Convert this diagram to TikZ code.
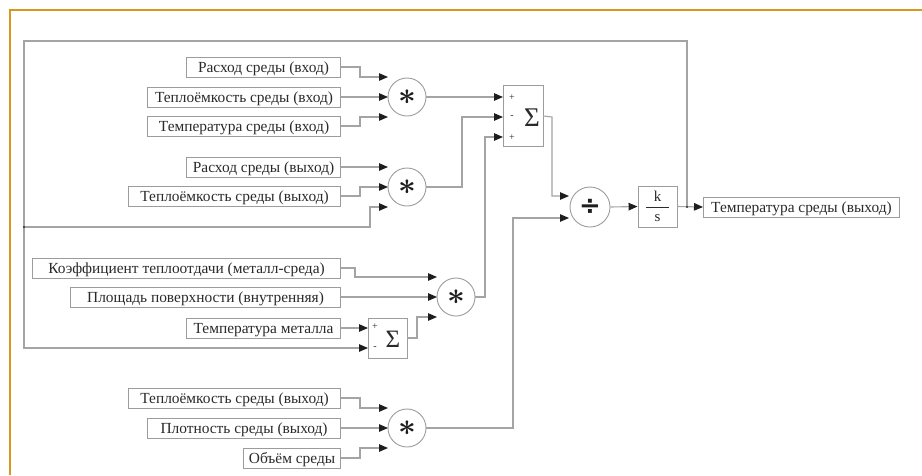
\documentclass[tikz,border=0pt]{standalone}
\usepackage{fontspec}
\setmainfont{Liberation Serif}
\newfontfamily\symfont{DejaVu Sans}
\usetikzlibrary{arrows.meta}
\definecolor{frameorange}{HTML}{D9981C}
\definecolor{wiregray}{HTML}{A4A4A4}
\definecolor{boxgray}{HTML}{9C9C9C}
\definecolor{inkgray}{HTML}{2A2A2A}
\definecolor{tipblack}{HTML}{1E1E1E}
\begin{document}
\begin{tikzpicture}[x=1pt,y=-1pt,
  sig/.style={draw=boxgray,line width=0.9pt,minimum height=20pt,inner sep=0pt,
    anchor=east,text=inkgray,font=\fontsize{15.4}{16}\selectfont,
    text height=11.5pt,text depth=1.3pt},
  op/.style={circle,draw=boxgray,line width=0.9pt,minimum size=38pt,inner sep=0pt,text=tipblack},
  blk/.style={rectangle,draw=boxgray,line width=0.9pt,inner sep=0pt},
  wire/.style={draw=wiregray,line width=1.1pt},
  feed/.style={wire,-{Triangle[length=9pt,width=7.5pt,color=tipblack]}},
  sign/.style={font=\fontsize{10}{10}\selectfont,text=inkgray,inner sep=0pt},
  mult/.style={op,font=\boldmath},
]
\useasboundingbox (0,0) rectangle (922,475);
\fill[white] (0,0) rectangle (922,475);
% frame
\draw[frameorange,line width=2pt] (10,475) -- (10,10) -- (922,10);

% ---- input signals, upper group
\node[sig,minimum width=154pt] (b1) at (341,67) {Расход среды (вход)};
\node[sig,minimum width=193pt] (b2) at (341,97) {Теплоёмкость среды (вход)};
\node[sig,minimum width=193pt] (b3) at (341,126) {Температура среды (вход)};
\node[sig,minimum width=154pt] (b4) at (341,167) {Расход среды (выход)};
\node[sig,minimum width=212pt] (b5) at (341,196) {Теплоёмкость среды (выход)};

% ---- input signals, metal group
\node[sig,minimum width=308pt] (c1) at (341,268) {Коэффициент теплоотдачи (металл-среда)};
\node[sig,minimum width=270pt] (c2) at (341,297) {Площадь поверхности (внутренняя)};
\node[sig,minimum width=154pt] (c3) at (341,328) {Температура металла};

% ---- input signals, volume group
\node[sig,minimum width=212pt] (d1) at (341,398) {Теплоёмкость среды (выход)};
\node[sig,minimum width=193pt] (d2) at (341,428) {Плотность среды (выход)};
\node[sig,minimum width=97pt] (d3) at (341,458) {Объём среды};

% ---- product blocks
\node[mult] (m1) at (407,97) {\scalebox{3.1}{$\ast$}};
\node[mult] (m2) at (407,187) {\scalebox{3.1}{$\ast$}};
\node[mult] (m3) at (456,297) {\scalebox{3.1}{$\ast$}};
\node[mult] (m4) at (407,428) {\scalebox{3.1}{$\ast$}};

% ---- sum blocks
\node[blk,minimum width=40pt,minimum height=61pt] (s1) at (523,116) {};
\node[font=\fontsize{27}{27}\selectfont,text=inkgray,inner sep=0pt] (s1sym) at (532,118) {Σ};
\node[sign] (s1p1) at (512,98) {+};
\node[sign] (s1m)  at (512,117) {-};
\node[sign] (s1p2) at (512,138) {+};

\node[blk,minimum width=39pt,minimum height=40pt] (s2) at (387.5,338) {};
\node[font=\fontsize{25}{25}\selectfont,text=inkgray,inner sep=0pt] (s2sym) at (393,339) {Σ};
\node[sign] (s2p) at (375,327) {+};
\node[sign] (s2m) at (375,348) {-};

% ---- divide, integrator, output
\node[op,minimum size=40pt,font=\symfont\bfseries\fontsize{26}{26}\selectfont] (dv) at (590,207) {÷};
\node[blk,minimum width=39pt,minimum height=41pt] (ks) at (657.5,206.5) {};
\node[text=inkgray,font=\fontsize{15}{15}\selectfont,inner sep=0pt] (ksk) at (657.5,196) {k};
\node[text=inkgray,font=\fontsize{15}{15}\selectfont,inner sep=0pt] (kss) at (657.5,218) {s};
\draw[inkgray,line width=0.7pt] (646,207) -- (669,207);
\node[sig,anchor=west,minimum width=196pt] (out) at (703,207) {Температура среды (выход)};

% ---- port coordinates
\coordinate (m1a) at (388,77);  \coordinate (m1b) at (388,97);  \coordinate (m1c) at (388,117);
\coordinate (m2a) at (388,167); \coordinate (m2b) at (388,187); \coordinate (m2c) at (388,207);
\coordinate (m3a) at (437,277); \coordinate (m3b) at (437,297); \coordinate (m3c) at (437,317);
\coordinate (m4a) at (388,408); \coordinate (m4b) at (388,428); \coordinate (m4c) at (388,448);
\coordinate (s1a) at (503,97);  \coordinate (s1b) at (503,117); \coordinate (s1c) at (503,137);
\coordinate (s2a) at (368,328); \coordinate (s2b) at (368,348);
\coordinate (dva) at (569,196); \coordinate (dvb) at (569,218);
\coordinate (tap) at (687,207);
\coordinate (fbtr) at (687,41); \coordinate (fbtl) at (24,41);
\coordinate (fbbl) at (24,348); \coordinate (fbj) at (24,227);

% ---- wiring, upper group
\draw[feed] (b1.east) -- ++(19,0) |- (m1a);
\draw[feed] (b2.east) -- (m1b);
\draw[feed] (b3.east) -- ++(19,0) |- (m1c);
\draw[feed] (b4.east) -- (m2a);
\draw[feed] (b5.east) -- ++(19,0) |- (m2b);
\draw[feed] (m1.east) -- (s1a);
\draw[feed] (m2.east) -- (462,187) |- (s1b);
\draw[feed] (m3.east) -- (485,297) |- (s1c);

% ---- wiring, metal group
\draw[feed] (c1.east) -- ++(14,0) |- (m3a);
\draw[feed] (c2.east) -- (m3b);
\draw[feed] (c3.east) -- (s2a);
\draw[feed] (s2.east) -- (417,338) |- (m3c);

% ---- wiring, volume group
\draw[feed] (d1.east) -- ++(19,0) |- (m4a);
\draw[feed] (d2.east) -- (m4b);
\draw[feed] (d3.east) -- ++(19,0) |- (m4c);
\draw[feed] (m4.east) -- (513,428) |- (dvb);

% ---- main path
\draw[feed] (s1.east) -- (552,117) |- (dva);
\draw[feed] (dv.east) -- (ks.west);
\draw[feed] (ks.east) -- (out.west);

% ---- temperature feedback
\draw[feed] (tap) -- (fbtr) -- (fbtl) -- (fbbl) -- (s2b);
\draw[feed] (fbj) -- (370,227) |- (m2c);
\fill[inkgray] (tap) circle (1.2pt);
\fill[inkgray] (fbj) circle (1.2pt);
\end{tikzpicture}
\end{document}
